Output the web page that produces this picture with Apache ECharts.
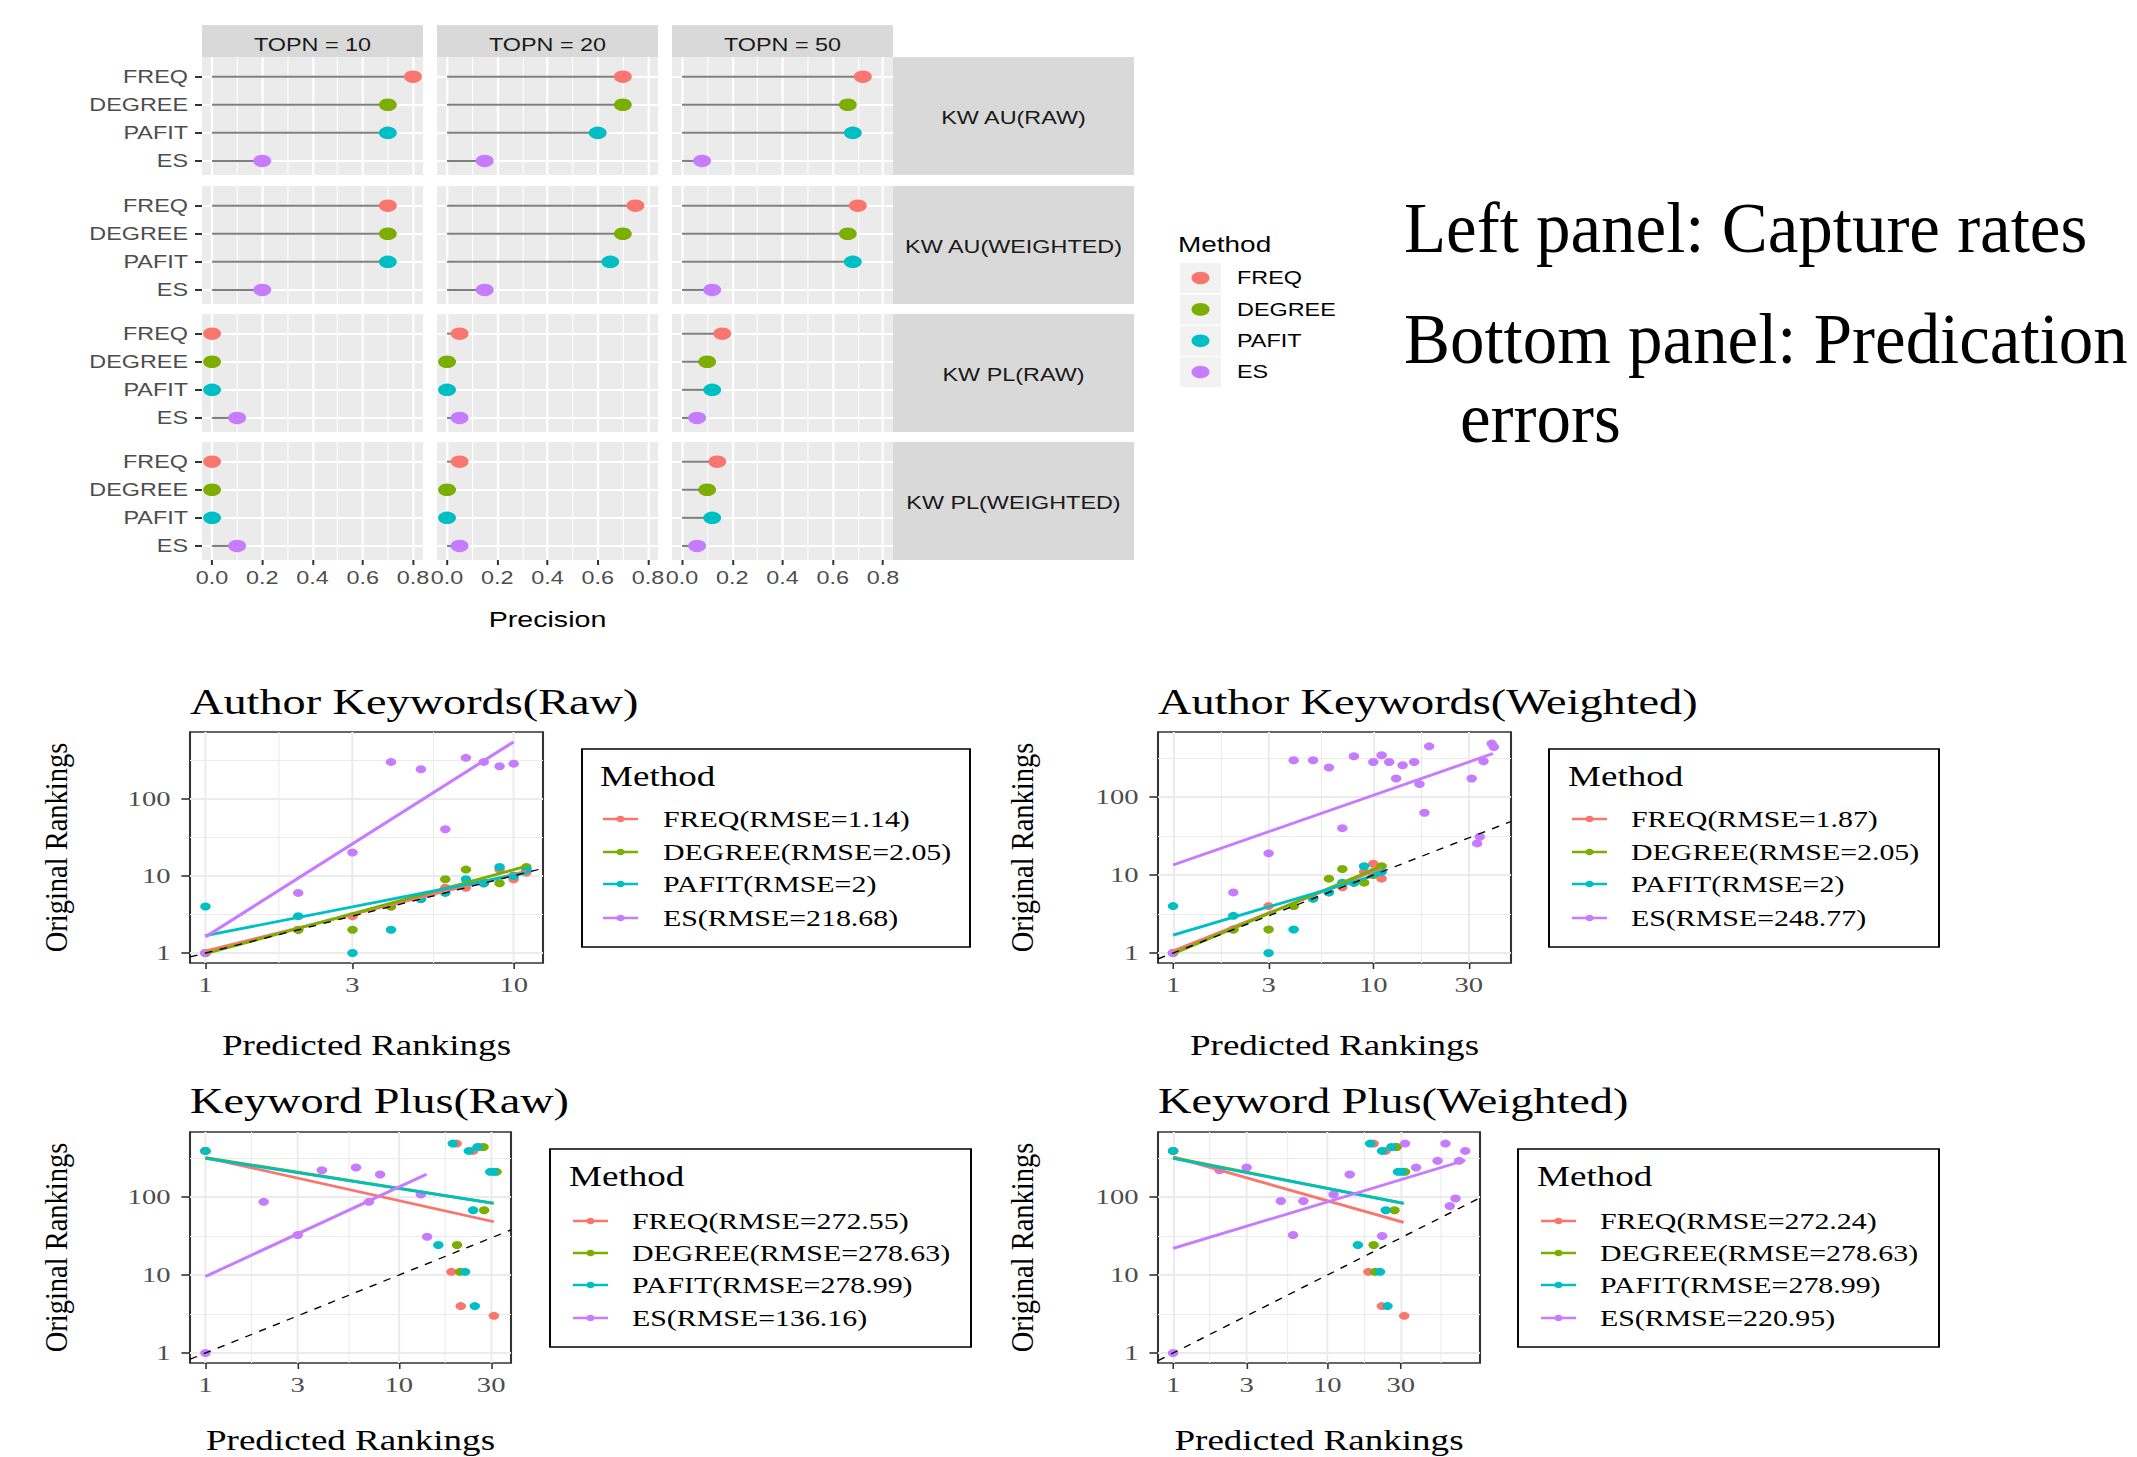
<!DOCTYPE html>
<html>
<head>
<meta charset="utf-8">
<title>Capture rates and prediction errors</title>
<script src="https://cdn.jsdelivr.net/npm/echarts@6.0.0/dist/echarts.min.js"></script>
<style>
  html, body { margin: 0; padding: 0; background: #ffffff; overflow: hidden; }
  #stage { width: 2137px; height: 1457px; overflow: hidden; }
  #chart { height: 1457px; transform-origin: 0 0; }
</style>
</head>
<body>
<div id="stage"><div id="chart"></div></div>
<script>
// ===================== DATA =====================
const methods = ['FREQ', 'DEGREE', 'PAFIT', 'ES'];
const methodColors = ['#F8766D', '#7CAE00', '#00BFC4', '#C77CFF'];
const topnLabels = ['TOPN = 10', 'TOPN = 20', 'TOPN = 50'];
const corpusLabels = ['KW AU(RAW)', 'KW AU(WEIGHTED)', 'KW PL(RAW)', 'KW PL(WEIGHTED)'];
const precisionTicks = [0, 0.2, 0.4, 0.6, 0.8];
const precisionMinorTicks = [0.1, 0.3, 0.5, 0.7];
const precisionRange = [-0.04, 0.84];

// precision, one row per TOPN column: [FREQ, DEGREE, PAFIT, ES]
const precAuRaw      = [[0.80, 0.70, 0.70, 0.20], [0.70, 0.70, 0.60, 0.15], [0.72, 0.66, 0.68, 0.08]];
const precAuWeighted = [[0.70, 0.70, 0.70, 0.20], [0.75, 0.70, 0.65, 0.15], [0.70, 0.66, 0.68, 0.12]];
const precPlRaw      = [[0.00, 0.00, 0.00, 0.10], [0.05, 0.00, 0.00, 0.05], [0.16, 0.10, 0.12, 0.06]];
const precPlWeighted = [[0.00, 0.00, 0.00, 0.10], [0.05, 0.00, 0.00, 0.05], [0.14, 0.10, 0.12, 0.06]];

const scatterTitles = ['Author Keywords(Raw)', 'Author Keywords(Weighted)', 'Keyword Plus(Raw)', 'Keyword Plus(Weighted)'];
const rankTicks = [1, 3, 10, 30];
const rankMinorTicks = [1.732, 5.477, 17.32, 54.77];
const origTicks = [1, 10, 100];
const origMinorTicks = [3.162, 31.62, 316.2];

const rmseAuRaw      = [1.14, 2.05, 2, 218.68];
const rmseAuWeighted = [1.87, 2.05, 2, 248.77];
const rmsePlRaw      = [272.55, 278.63, 278.99, 136.16];
const rmsePlWeighted = [272.24, 278.63, 278.99, 220.95];

// [predicted ranking, original ranking]
const auRawFreq   = [[1,1],[2,2],[3,3],[4,4],[5,5],[6,7],[7,7],[8,8],[9,12],[10,9],[11,11]];
const auRawDegree = [[1,1],[2,2],[3,2],[4,4],[5,5],[6,9],[7,12],[8,8],[9,8],[10,10],[11,13]];
const auRawPafit  = [[1,4],[2,3],[3,1],[4,2],[5,5],[6,6],[7,9],[8,8],[9,13],[10,10],[11,12]];
const auRawEs     = [[1,1],[2,6],[3,20],[4,297],[5,239],[6,40],[7,335],[8,297],[9,261],[10,282]];
const auRawFits   = [[[1,1.06],[11,11.5]], [[1,0.98],[11,13.3]], [[1,1.68],[11,10.9]], [[1,1.62],[10,540]]];

const auWtFreq    = [[1,1],[2,2],[3,4],[4,4],[5,5],[6,6],[7,7],[8,8],[9,11],[10,14],[11,9]];
const auWtDegree  = [[1,1],[2,2],[3,2],[4,4],[5,5],[6,9],[7,12],[8,8],[9,8],[10,10],[11,13]];
const auWtPafit   = [[1,4],[2,3],[3,1],[4,2],[5,5],[6,6],[7,8],[8,8],[9,13],[10,11],[11,11]];
const auWtEs      = [[1,1],[2,6],[3,19],[4,297],[5,297],[6,240],[7,40],[8,335],[10,283],[11,345],[12,283],[13,173],[14,257],[16,283],[17,147],[18,63],[19,448],[31,173],[33,25.5],[34,31],[35.5,289],[39,486],[40,440]];
const auWtFits    = [[[1,1.06],[11,12.3]], [[1,0.98],[11.2,13.3]], [[1,1.7],[11,10.5]], [[1,13.5],[39.6,362]]];

const plRawFreq   = [[1,392],[18.7,11],[19.9,486],[20.9,4],[24.2,392],[26,440],[31,3]];
const plRawDegree = [[1,392],[20,24.3],[20.7,11],[27.4,440],[27.6,68],[32,211]];
const plRawPafit  = [[1,392],[16,24.3],[19,486],[22,11],[23,392],[24.2,68],[24.7,4],[25.5,440],[29.7,211],[31,211]];
const plRawEs     = [[1,1],[2,87],[3,32.6],[4,221],[6,240],[7,87],[8,195],[13,108],[14,31]];
const plRawFits   = [[[1,322],[31,48.3]], [[1,322],[31,83]], [[1,315],[30.6,84]], [[1,9.6],[13.9,197]]];

const plWtFreq    = [[1,392],[18.5,11],[20,486],[22.6,4],[23.9,392],[28.3,440],[31.6,3]];
const plWtDegree  = [[1,392],[20,24.3],[20.4,11],[27.3,68],[28,440],[32,211]];
const plWtPafit   = [[1,392],[15.8,24.3],[19,486],[22,11],[22.7,392],[24,68],[24.6,4],[26.1,440],[28.8,211],[30.5,211]];
const plWtEs      = [[1,1],[2,221],[3,240],[5,89],[6,32.6],[7,89],[11,108],[14,195],[22.7,31.7],[32,486],[37.7,240],[52,292],[58.5,486],[62.4,77],[68,96],[71.8,292],[78.6,392]];
const plWtFits    = [[[1,328],[31.3,47.4]], [[1,322],[31.3,83]], [[1,315],[31.3,83]], [[1,22],[78.6,297]]];

// axis ranges (predicted, original)
const rangeAuRaw = { x: [0.891, 12.45], y: [0.743, 724] };
const rangeAuWt  = { x: [0.841, 48.7],  y: [0.745, 685] };
const rangePlRaw = { x: [0.832, 38.0],  y: [0.745, 685] };
const rangePlWt  = { x: [0.798, 98],    y: [0.745, 685] };

const sideNotes = ['Left panel: Capture rates', 'Bottom panel: Predication', 'errors'];

// ===================== LAYOUT =====================
const K = 1.3;                 // horizontal stretch of the whole figure
const X = v => v / K;
const SANS = 'Liberation Sans, Arial, sans-serif';
const SERIF = 'Liberation Serif, Times New Roman, serif';

const chartDom = document.getElementById('chart');
chartDom.style.width = (2137 / K) + 'px';
chartDom.style.transform = 'scaleX(' + K + ')';
const chart = echarts.init(chartDom, null, { renderer: 'svg', width: 2137 / K, height: 1457 });

const grid = [], xAxis = [], yAxis = [], series = [], graphic = [], title = [];

// ---------- top faceted lollipop ----------
const precByCorpus = [precAuRaw, precAuWeighted, precPlRaw, precPlWeighted];
const colLeft = [202, 437, 672], colW = 221;
const rowTop = [57, 186, 314, 442], rowH = 118;
const stripTop = 25, stripH = 32;
const rStripLeft = 893, rStripW = 241;

precByCorpus.forEach((corpus, r) => {
  corpus.forEach((vals, c) => {
    const g = grid.length;
    const bottomRow = r === precByCorpus.length - 1;
    const leftCol = c === 0;
    grid.push({
      left: X(colLeft[c]), top: rowTop[r], width: X(colW), height: rowH,
      show: true, backgroundColor: '#EBEBEB', borderWidth: 0,
      containLabel: false, outerBoundsMode: 'none'
    });
    const xi = xAxis.length;
    xAxis.push({
      type: 'value', gridIndex: g, min: precisionRange[0], max: precisionRange[1], position: 'bottom',
      axisLine: { show: false, onZero: false },
      axisTick: { show: bottomRow, customValues: precisionTicks, length: 5, lineStyle: { color: '#333333', width: 2 / K } },
      axisLabel: { show: bottomRow, customValues: precisionTicks, formatter: v => v.toFixed(1), margin: 9,
                   color: '#4D4D4D', fontFamily: SANS, fontSize: 18 },
      splitLine: { show: true, lineStyle: { color: '#FFFFFF', width: 2.2 / K } },
      name: (bottomRow && c === 1) ? 'Precision' : '',
      nameLocation: 'middle', nameGap: 48,
      nameTextStyle: { fontFamily: SANS, fontSize: 22, color: '#000000' }
    });
    xAxis.push({
      type: 'value', gridIndex: g, min: precisionRange[0], max: precisionRange[1], position: 'top',
      axisLine: { show: false, onZero: false },
      axisTick: { show: false, customValues: precisionMinorTicks },
      axisLabel: { show: false, customValues: precisionMinorTicks },
      splitLine: { show: true, lineStyle: { color: '#FFFFFF', width: 1.1 / K } }
    });
    const yi = yAxis.length;
    const idx = methods.map((m, k) => k);
    yAxis.push({
      type: 'value', gridIndex: g, min: -0.7, max: 3.5, inverse: true,
      axisLine: { show: false, onZero: false },
      axisTick: { show: leftCol, customValues: idx, length: X(7), lineStyle: { color: '#333333', width: 2 } },
      axisLabel: { show: leftCol, customValues: idx, formatter: v => methods[Math.round(v)], margin: X(14),
                   color: '#4D4D4D', fontFamily: SANS, fontSize: 18 },
      splitLine: { show: true, lineStyle: { color: '#FFFFFF', width: 2 } }
    });
    series.push({
      type: 'custom', xAxisIndex: xi, yAxisIndex: yi, silent: true, z: 2,
      data: vals.map((v, k) => [v, k]),
      renderItem: (params, api) => {
        const a = api.coord([0, api.value(1)]);
        const b = api.coord([api.value(0), api.value(1)]);
        return { type: 'line', shape: { x1: a[0], y1: a[1], x2: b[0], y2: b[1] },
                 style: { stroke: '#7F7F7F', lineWidth: 2 } };
      }
    });
    vals.forEach((v, k) => {
      series.push({
        type: 'scatter', name: methods[k], xAxisIndex: xi, yAxisIndex: yi, z: 3,
        data: [[v, k]], symbol: 'circle', symbolSize: [X(18), 12.5],
        itemStyle: { color: methodColors[k], opacity: 1 }
      });
    });
  });
});

// strips
topnLabels.forEach((t, c) => {
  graphic.push({ type: 'rect', shape: { x: X(colLeft[c]), y: stripTop, width: X(colW), height: stripH }, style: { fill: '#D9D9D9' }, silent: true });
  graphic.push({ type: 'text', x: X(colLeft[c] + colW / 2), y: stripTop + 20,
    style: { text: t, fill: '#1A1A1A', font: '18px ' + SANS, align: 'center', textAlign: 'center', verticalAlign: 'middle', textVerticalAlign: 'middle' }, silent: true });
});
corpusLabels.forEach((t, r) => {
  graphic.push({ type: 'rect', shape: { x: X(rStripLeft), y: rowTop[r], width: X(rStripW), height: rowH }, style: { fill: '#D9D9D9' }, silent: true });
  graphic.push({ type: 'text', x: X(rStripLeft + rStripW / 2), y: rowTop[r] + rowH / 2 + 2,
    style: { text: t, fill: '#1A1A1A', font: '18px ' + SANS, align: 'center', textAlign: 'center', verticalAlign: 'middle', textVerticalAlign: 'middle' }, silent: true });
});

// top legend
const topLegend = { titleX: 1178, titleY: 244, keyX: 1180, keyW: 41, keyH: 30, itemY: [278, 309.4, 340.7, 372], textX: 1237 };
graphic.push({ type: 'text', x: X(topLegend.titleX), y: topLegend.titleY,
  style: { text: 'Method', fill: '#000000', font: '21.5px ' + SANS, align: 'left', textAlign: 'left', verticalAlign: 'middle', textVerticalAlign: 'middle' }, silent: true });
methods.forEach((m, k) => {
  const cy = topLegend.itemY[k];
  graphic.push({ type: 'rect', shape: { x: X(topLegend.keyX), y: cy - topLegend.keyH / 2, width: X(topLegend.keyW), height: topLegend.keyH }, style: { fill: '#F2F2F2' }, silent: true });
  graphic.push({ type: 'ellipse', shape: { cx: X(topLegend.keyX + topLegend.keyW / 2), cy: cy, rx: X(9), ry: 6.3 }, style: { fill: methodColors[k] }, silent: true });
  graphic.push({ type: 'text', x: X(topLegend.textX), y: cy,
    style: { text: m, fill: '#000000', font: '18px ' + SANS, align: 'left', textAlign: 'left', verticalAlign: 'middle', textVerticalAlign: 'middle' }, silent: true });
});

// ---------- bottom scatter panels ----------
const scatterPanels = [
  { left: 190, right: 543, top: 732, bottom: 963, titleY: 702, nameX: 56, nameGap: 68, range: rangeAuRaw,
    points: [auRawFreq, auRawDegree, auRawPafit, auRawEs], fits: auRawFits, rmse: rmseAuRaw,
    legend: { x: 582, y: 749, w: 388, h: 198, titleX: 600, titleY: 777, lineX: 603, textX: 663, itemY: [819, 852, 884, 918] } },
  { left: 1158, right: 1511, top: 732, bottom: 963, titleY: 702, nameX: 1022, nameGap: 68, range: rangeAuWt,
    points: [auWtFreq, auWtDegree, auWtPafit, auWtEs], fits: auWtFits, rmse: rmseAuWeighted,
    legend: { x: 1549, y: 749, w: 390, h: 198, titleX: 1568, titleY: 777, lineX: 1572, textX: 1631, itemY: [819, 852, 884, 918] } },
  { left: 190, right: 511, top: 1132, bottom: 1363, titleY: 1101, nameX: 56, nameGap: 63, range: rangePlRaw,
    points: [plRawFreq, plRawDegree, plRawPafit, plRawEs], fits: plRawFits, rmse: rmsePlRaw,
    legend: { x: 550, y: 1149, w: 421, h: 198, titleX: 569, titleY: 1177, lineX: 573, textX: 632, itemY: [1221, 1253, 1285, 1318] } },
  { left: 1158, right: 1480, top: 1132, bottom: 1363, titleY: 1101, nameX: 1022, nameGap: 63, range: rangePlWt,
    points: [plWtFreq, plWtDegree, plWtPafit, plWtEs], fits: plWtFits, rmse: rmsePlWeighted,
    legend: { x: 1518, y: 1149, w: 421, h: 198, titleX: 1537, titleY: 1177, lineX: 1541, textX: 1600, itemY: [1221, 1253, 1285, 1318] } }
];

scatterPanels.forEach((p, q) => {
  const g = grid.length;
  grid.push({
    left: X(p.left), top: p.top, width: X(p.right - p.left), height: p.bottom - p.top,
    show: true, backgroundColor: '#FFFFFF', borderColor: '#333333', borderWidth: 1.6,
    containLabel: false, outerBoundsMode: 'none'
  });
  const xi = xAxis.length;
  xAxis.push({
    type: 'log', logBase: 10, gridIndex: g, min: p.range.x[0], max: p.range.x[1], position: 'bottom',
    axisLine: { show: false, onZero: false },
    axisTick: { show: true, customValues: rankTicks, length: 6, lineStyle: { color: '#333333', width: 1.6 / K } },
    axisLabel: { show: true, customValues: rankTicks, formatter: v => String(Math.round(v)), margin: 11,
                 color: '#4D4D4D', fontFamily: SERIF, fontSize: 22 },
    splitLine: { show: true, lineStyle: { color: '#EBEBEB', width: 2 / K } },
    name: 'Predicted Rankings', nameLocation: 'middle', nameGap: p.nameGap,
    nameTextStyle: { fontFamily: SERIF, fontSize: 28.5, color: '#000000' }
  });
  xAxis.push({
    type: 'log', logBase: 10, gridIndex: g, min: p.range.x[0], max: p.range.x[1], position: 'top',
    axisLine: { show: false, onZero: false },
    axisTick: { show: false, customValues: rankMinorTicks },
    axisLabel: { show: false, customValues: rankMinorTicks },
    splitLine: { show: true, lineStyle: { color: '#EBEBEB', width: 1.1 / K } }
  });
  const yi = yAxis.length;
  yAxis.push({
    type: 'log', logBase: 10, gridIndex: g, min: p.range.y[0], max: p.range.y[1], position: 'left',
    axisLine: { show: false, onZero: false },
    axisTick: { show: true, customValues: origTicks, length: X(8.6), lineStyle: { color: '#333333', width: 1.6 } },
    axisLabel: { show: true, customValues: origTicks, formatter: v => String(Math.round(v)), margin: X(19.5),
                 color: '#4D4D4D', fontFamily: SERIF, fontSize: 22 },
    splitLine: { show: true, lineStyle: { color: '#EBEBEB', width: 2 } }
  });
  yAxis.push({
    type: 'log', logBase: 10, gridIndex: g, min: p.range.y[0], max: p.range.y[1], position: 'right',
    axisLine: { show: false, onZero: false },
    axisTick: { show: false, customValues: origMinorTicks },
    axisLabel: { show: false, customValues: origMinorTicks },
    splitLine: { show: true, lineStyle: { color: '#EBEBEB', width: 1.1 } }
  });
  const labels = methods.map((m, k) => m + '(RMSE=' + p.rmse[k] + ')');
  p.points.forEach((pts, k) => {
    series.push({
      type: 'scatter', name: labels[k], xAxisIndex: xi, yAxisIndex: yi, z: 3,
      data: pts, symbol: 'circle', symbolSize: [X(10.5), 8],
      itemStyle: { color: methodColors[k], opacity: 1 }
    });
  });
  p.fits.forEach((seg, k) => {
    series.push({
      type: 'line', name: labels[k], xAxisIndex: xi, yAxisIndex: yi, z: 4,
      data: seg, symbol: 'none', showSymbol: false, silent: true,
      lineStyle: { color: methodColors[k], width: 2.8 }
    });
  });
  series.push({
    type: 'line', name: 'identity', xAxisIndex: xi, yAxisIndex: yi, z: 5, silent: true,
    data: [[p.range.x[0], p.range.x[0]], [p.range.x[1], p.range.x[1]]],
    symbol: 'none', showSymbol: false,
    lineStyle: { color: '#000000', width: 1.3, type: [6, 6] }
  });

  title.push({
    text: scatterTitles[q], left: X(p.left), top: p.titleY - 18, padding: 0,
    textStyle: { fontFamily: SERIF, fontSize: 35.6, fontWeight: 'normal', color: '#000000' }
  });
  graphic.push({
    type: 'text', x: X(p.nameX), y: (p.top + p.bottom) / 2, rotation: Math.PI / 2, scaleY: 1.12 / K,
    style: { text: 'Original Rankings', fill: '#000000', font: '28.5px ' + SERIF, align: 'center', textAlign: 'center', verticalAlign: 'middle', textVerticalAlign: 'middle' },
    silent: true
  });

  const L = p.legend;
  graphic.push({ type: 'rect', shape: { x: X(L.x), y: L.y, width: X(L.w), height: L.h },
    style: { fill: '#FFFFFF', stroke: '#000000', lineWidth: 1.5 }, silent: true });
  graphic.push({ type: 'text', x: X(L.titleX), y: L.titleY,
    style: { text: 'Method', fill: '#000000', font: '28.5px ' + SERIF, align: 'left', textAlign: 'left', verticalAlign: 'middle', textVerticalAlign: 'middle' }, silent: true });
  labels.forEach((lab, k) => {
    const cy = L.itemY[k];
    graphic.push({ type: 'line', shape: { x1: X(L.lineX), y1: cy, x2: X(L.lineX + 35), y2: cy },
      style: { stroke: methodColors[k], lineWidth: 2.6 }, silent: true });
    graphic.push({ type: 'ellipse', shape: { cx: X(L.lineX + 17.5), cy: cy, rx: X(4.2), ry: 3.3 },
      style: { fill: methodColors[k] }, silent: true });
    graphic.push({ type: 'text', x: X(L.textX), y: cy,
      style: { text: lab, fill: '#000000', font: '23px ' + SERIF, align: 'left', textAlign: 'left', verticalAlign: 'middle', textVerticalAlign: 'middle' }, silent: true });
  });
});

// side notes
const notePos = [[1404, 228], [1404, 339], [1460, 418]];
sideNotes.forEach((t, i) => {
  graphic.push({ type: 'text', x: X(notePos[i][0]), y: notePos[i][1], scaleX: 0.747,
    style: { text: t, fill: '#000000', font: '71px ' + SERIF, align: 'left', textAlign: 'left', verticalAlign: 'middle', textVerticalAlign: 'middle' }, silent: true });
});

chart.setOption({
  animation: false,
  backgroundColor: '#FFFFFF',
  title: title,
  grid: grid,
  xAxis: xAxis,
  yAxis: yAxis,
  series: series,
  graphic: { elements: graphic }
});
</script>
</body>
</html>
